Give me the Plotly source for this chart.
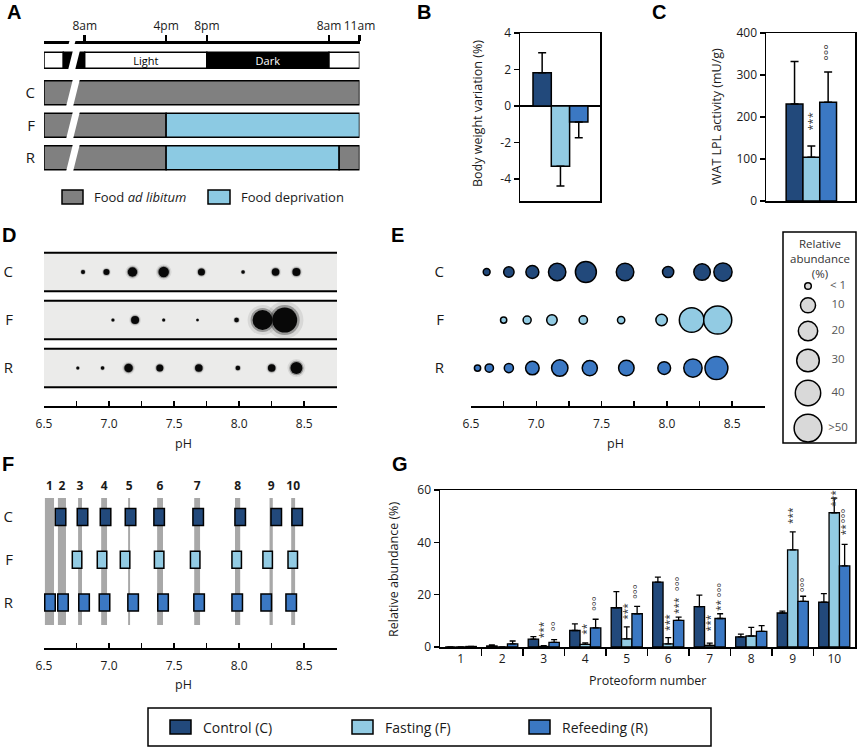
import math
import plotly.graph_objects as go

W, H = 858, 748

CTRL = "#22497b"
FAST = "#92cbe3"
REFD = "#3b78c3"
FED = "#808080"
DEPRIV = "#8ccae3"
BAND = "#a8a8a8"
GEL = "#ebebea"
FONT = "Open Sans"
BOLD = "Liberation Sans"
INK = "#1a1a1a"

# --- A: feeding protocol, in hours (8 = 8am of the last day)
time_ticks = [8, 16, 20, 32, 35]
time_labels = ["8am", "4pm", "8pm", "8am", "11am"]
ld_start = [4, 5.9, 8, 20, 32]
ld_end = [5.9, 8, 20, 32, 35]
ld_text = ["", "", "Light", "Dark", ""]
ld_dark = [False, True, False, True, False]
c_start, c_end, c_fed = [4], [35], [True]
f_start, f_end, f_fed = [4, 16], [16, 35], [True, False]
r_start, r_end, r_fed = [4, 16, 33], [16, 33, 35], [True, False, True]

# --- B: body weight variation (%)
bw_mean = [1.82, -3.30, -0.88]
bw_err = [1.10, 1.08, 0.85]

# --- C: WAT LPL activity (mU/g)
lpl_mean = [231, 104, 235]
lpl_err = [101, 27, 72]
lpl_sig = ["", "***", "°°°"]
lpl_sig_y = [0, 164, 328]

# --- G: relative abundance of each proteoform (%)
forms = list(range(1, 11))
ctrl_mean = [0, 0.4, 3.0, 6.3, 15.0, 24.8, 15.4, 3.9, 13.0, 17.1]
ctrl_err = [0, 0.4, 1.0, 2.5, 6.2, 1.9, 4.4, 1.0, 0.7, 3.3]
fast_mean = [0, 0, 0.2, 1.0, 3.1, 1.2, 0.6, 4.2, 37.1, 51.3]
fast_err = [0, 0, 0.3, 0.6, 4.6, 2.4, 0.9, 3.3, 6.9, 5.6]
refd_mean = [0.2, 1.2, 1.8, 7.3, 12.7, 10.2, 10.9, 6.0, 17.4, 31.0]
refd_err = [0, 1.1, 1.0, 3.3, 2.8, 1.2, 1.8, 2.2, 2.0, 8.2]

sig_form = [3, 3, 4, 4, 5, 5, 6, 6, 6, 7, 7, 7, 9, 9, 10, 10, 10]
sig_group = ["F", "R", "F", "R", "F", "R", "F", "R", "R", "F", "R", "R", "F", "R", "F", "R", "R"]
sig_text = ["***", "°°", "**", "°°°", "***", "°°°", "***", "***", "°°°",
            "***", "**", "°°°", "***", "°°°", "***", "**", "°°°"]
sig_y = [2.7, 5.3, 4.0, 13.0, 9.7, 17.4, 5.3, 11.9, 20.6, 5.3, 13.0, 18.0, 46.3, 20.0, 52.7, 41.8, 46.5]

# --- D: 2D gel spots (pH, spot diameter px)
gel_c_ph = [6.80, 6.98, 7.18, 7.42, 7.71, 8.03, 8.28, 8.44]
gel_c_size = [4, 6, 9.5, 10.5, 7, 3.5, 7.5, 8]
gel_f_ph = [7.03, 7.20, 7.42, 7.68, 7.98, 8.18, 8.35]
gel_f_size = [3, 8, 3, 2.5, 4.5, 20, 25]
gel_r_ph = [6.76, 6.95, 7.15, 7.39, 7.69, 7.99, 8.25, 8.44]
gel_r_size = [3, 3.5, 8.5, 7, 7.5, 4.5, 7.5, 12]

# --- E: spot pH and the proteoform each one is
dot_c_ph = [6.62, 6.79, 6.97, 7.16, 7.38, 7.68, 8.01, 8.27, 8.43]
dot_c_form = [2, 3, 4, 5, 6, 7, 8, 9, 10]
dot_f_ph = [6.75, 6.93, 7.12, 7.36, 7.65, 7.96, 8.19, 8.39]
dot_f_form = [3, 4, 5, 6, 7, 8, 9, 10]
dot_r_ph = [6.55, 6.64, 6.79, 6.97, 7.18, 7.41, 7.69, 7.98, 8.20, 8.38]
dot_r_form = [1, 2, 3, 4, 5, 6, 7, 8, 9, 10]
size_key_vals = [0.3, 10, 20, 30, 40, 50]
size_key_text = ["< 1", "10", "20", "30", "40", ">50"]

# --- F: proteoform map (band centre pH, band width pH, spot pH per group)
band_ph = [6.542, 6.638, 6.777, 6.962, 7.154, 7.392, 7.677, 7.988, 8.246, 8.415]
band_w = [0.07, 0.062, 0.03, 0.045, 0.015, 0.045, 0.045, 0.04, 0.025, 0.03]
map_c_ph = [6.627, 6.796, 6.973, 7.165, 7.385, 7.685, 8.008, 8.285, 8.446]
map_f_ph = [6.754, 6.946, 7.123, 7.385, 7.662, 7.981, 8.219, 8.412]
map_r_ph = [6.546, 6.646, 6.808, 6.965, 7.185, 7.415, 7.692, 7.985, 8.208, 8.400]

ph_ticks = [6.5, 7.0, 7.5, 8.0, 8.5]


def fx(px):
    return px / W


def fy(py):
    return 1 - py / H


def dom_x(a, b):
    return [a / W, b / W]


def dom_y(top, bot):
    return [1 - bot / H, 1 - top / H]


def bubble(v):
    return 4.8 + 3.25 * math.sqrt(v)


fig = go.Figure()
shapes = []
notes = []


def note(x, y, text, size=12, ref=("paper", "paper"), angle=0, xa="center", ya="middle", color=INK, family=FONT):
    notes.append(dict(x=x, y=y, xref=ref[0], yref=ref[1], text=text, showarrow=False,
                      textangle=angle, xanchor=xa, yanchor=ya,
                      font=dict(family=family, size=size, color=color)))


# ---------------- A ----------------
A_ROW_H = 32.5
A_TOP = 44


def a_row_px(r):
    return A_TOP + (r + 0.5) * A_ROW_H


def seg_bars(starts, ends, colors, row, width, texts=None, tcolors=None):
    fig.add_trace(go.Bar(
        orientation="h", y=[row] * len(starts), x=[e - s for s, e in zip(starts, ends)],
        base=starts, width=width, offset=-width / 2,
        marker=dict(color=colors, line=dict(color="black", width=1.5)),
        text=texts, textposition="inside" if texts else "none", insidetextanchor="middle",
        textangle=0, constraintext="none",
        insidetextfont=dict(color=tcolors, size=11, family=FONT),
        xaxis="x", yaxis="y", hoverinfo="skip", showlegend=False))


seg_bars(ld_start, ld_end, ["black" if d else "white" for d in ld_dark], 0, 0.49,
         ld_text, ["white" if d else "black" for d in ld_dark])
for row, (st, en, fed) in enumerate([(c_start, c_end, c_fed), (f_start, f_end, f_fed),
                                     (r_start, r_end, r_fed)], start=1):
    seg_bars(st, en, [FED if f else DEPRIV for f in fed], row, 0.74)


def slash(top, bot, xl=73.0, w=7.0, s=0.25):
    top -= 2
    bot += 2
    xb = xl - s * (bot - top)
    return dict(type="path", xref="paper", yref="paper", layer="above",
                path=f"M {fx(xl)},{fy(top)} L {fx(xl + w)},{fy(top)} "
                     f"L {fx(xb + w)},{fy(bot)} L {fx(xb)},{fy(bot)} Z",
                fillcolor="white", line=dict(width=0))


for row, wd in [(0, 0.49), (1, 0.74), (2, 0.74), (3, 0.74)]:
    c = a_row_px(row)
    half = wd * A_ROW_H / 2
    shapes.append(slash(c - half, c + half))
shapes.append(slash(38, 44, xl=71, w=6, s=0.3))

for x0, x1, col, label in [(62, 83, FED, "Food <i>ad libitum</i>"), (208, 230, DEPRIV, "Food deprivation")]:
    shapes.append(dict(type="rect", xref="paper", yref="paper", x0=fx(x0), x1=fx(x1),
                       y0=fy(204), y1=fy(190), fillcolor=col, line=dict(color="black", width=1.5)))
    note(fx(x1 + 9), fy(197), label, size=13, xa="left")

# ---------------- B ----------------
fig.add_trace(go.Bar(
    x=[0, 1, 2], y=bw_mean, width=1, offset=-0.5,
    marker=dict(color=[CTRL, FAST, REFD], line=dict(color="black", width=1.5)),
    error_y=dict(type="data", symmetric=False,
                 array=[e if m > 0 else 0 for m, e in zip(bw_mean, bw_err)],
                 arrayminus=[e if m < 0 else 0 for m, e in zip(bw_mean, bw_err)],
                 color="black", thickness=1.5, width=4),
    xaxis="x2", yaxis="y2", hoverinfo="skip", showlegend=False))
note(fx(478), fy(114), "Body weight variation (%)", size=12.5, angle=-90)

# ---------------- C ----------------
fig.add_trace(go.Bar(
    x=[0, 1, 2], y=lpl_mean, width=1, offset=-0.5,
    marker=dict(color=[CTRL, FAST, REFD], line=dict(color="black", width=1.5)),
    error_y=dict(type="data", symmetric=False, array=lpl_err, arrayminus=[0, 0, 0],
                 color="black", thickness=1.5, width=4),
    xaxis="x3", yaxis="y3", hoverinfo="skip", showlegend=False))
for i, (t, yv) in enumerate(zip(lpl_sig, lpl_sig_y)):
    if t:
        note(i, yv, t, size=11 if "*" in t else 13, ref=("x3", "y3"), angle=-90, ya="bottom", color="#333")
note(fx(717), fy(117), "WAT LPL activity (mU/g)", size=12.5, angle=-90)

# ---------------- D ----------------
for row, (ph, sz) in enumerate([(gel_c_ph, gel_c_size), (gel_f_ph, gel_f_size), (gel_r_ph, gel_r_size)]):
    shapes.append(dict(type="rect", xref="x4", yref="y4", x0=6.49, x1=8.775, y0=row - 0.4, y1=row + 0.4,
                       fillcolor=GEL, line=dict(color="black", width=2), layer="below"))
    for k, col in [(1.5, "rgba(0,0,0,0.08)"), (1.2, "rgba(0,0,0,0.3)"), (1.0, "#080808")]:
        fig.add_trace(go.Scatter(
            x=ph, y=[row] * len(ph), mode="markers",
            marker=dict(size=[s * k for s in sz], color=col, opacity=1, line=dict(width=0)),
            xaxis="x4", yaxis="y4", hoverinfo="skip", showlegend=False))
note(fx(183), fy(443), "pH", size=12.5)

# ---------------- E ----------------
for row, (ph, fm, col, mean) in enumerate([(dot_c_ph, dot_c_form, CTRL, ctrl_mean),
                                           (dot_f_ph, dot_f_form, FAST, fast_mean),
                                           (dot_r_ph, dot_r_form, REFD, refd_mean)]):
    fig.add_trace(go.Scatter(
        x=ph, y=[row] * len(ph), mode="markers", cliponaxis=False,
        marker=dict(size=[bubble(mean[f - 1]) for f in fm], color=col, opacity=1,
                    line=dict(color="black", width=1.5)),
        xaxis="x5", yaxis="y5", hoverinfo="skip", showlegend=False))
note(fx(615), fy(443), "pH", size=12.5)

# size key (drawn in a pixel-scaled axis)
key_d = [bubble(v) for v in size_key_vals]
key_y = [286]
for a, b in zip(key_d[:-1], key_d[1:]):
    key_y.append(key_y[-1] + (a + b) / 2 + 8.5)
fig.add_trace(go.Scatter(
    x=[808] * len(key_y), y=key_y, mode="markers", cliponaxis=False,
    marker=dict(size=key_d, color="#d9d9d9", opacity=1, line=dict(color="black", width=1.5)),
    xaxis="x8", yaxis="y8", hoverinfo="skip", showlegend=False))
fig.add_trace(go.Scatter(
    x=[838] * len(key_y), y=key_y, mode="text", text=size_key_text, cliponaxis=False,
    textfont=dict(family=FONT, size=11.5, color="#555"),
    xaxis="x8", yaxis="y8", hoverinfo="skip", showlegend=False))
shapes.append(dict(type="rect", xref="paper", yref="paper", x0=fx(783), x1=fx(856), y0=fy(443), y1=fy(232),
                   line=dict(color="black", width=1.5)))
note(fx(820), fy(234), "Relative<br>abundance<br>(%)", size=11.5, ya="top", color="#333")

# ---------------- F ----------------
fig.add_trace(go.Bar(
    x=band_ph, y=[2.97] * len(band_ph), base=-0.444, width=band_w, offset=[-w / 2 for w in band_w],
    marker=dict(color=BAND, line=dict(width=0)),
    xaxis="x6", yaxis="y6", hoverinfo="skip", showlegend=False))
for row, (ph, col, wd) in enumerate([(map_c_ph, CTRL, 0.081), (map_f_ph, FAST, 0.073), (map_r_ph, REFD, 0.081)]):
    fig.add_trace(go.Bar(
        x=ph, y=[0.4] * len(ph), base=row - 0.2, width=wd, offset=-wd / 2,
        marker=dict(color=col, line=dict(color="black", width=1.5)),
        xaxis="x6", yaxis="y6", hoverinfo="skip", showlegend=False))
fig.add_trace(go.Scatter(
    x=band_ph, y=[-0.70] * len(band_ph), mode="text", text=[f"<b>{f}</b>" for f in forms],
    textfont=dict(family=FONT, size=12, color=INK),
    xaxis="x6", yaxis="y6", hoverinfo="skip", showlegend=False))
note(fx(183), fy(684), "pH", size=12.5)

# ---------------- G ----------------
for mean, err, col in [(ctrl_mean, ctrl_err, CTRL), (fast_mean, fast_err, FAST), (refd_mean, refd_err, REFD)]:
    fig.add_trace(go.Bar(
        x=forms, y=mean,
        marker=dict(color=col, line=dict(color="black", width=1.3)),
        error_y=dict(type="data", symmetric=False, array=err, arrayminus=[0] * len(err),
                     color="black", thickness=1.3, width=3),
        xaxis="x7", yaxis="y7", hoverinfo="skip", showlegend=False))
# empty trace so the overlaid label axis of G gets drawn
fig.add_trace(go.Scatter(x=forms, y=[None] * len(forms), mode="markers", xaxis="x9", yaxis="y7",
                         hoverinfo="skip", showlegend=False))
offs = {"C": -0.25, "F": 0.0, "R": 0.25}
for f, g, t, yv in zip(sig_form, sig_group, sig_text, sig_y):
    note(f + offs[g], yv, t, size=10 if "*" in t else 11.5, ref=("x7", "y7"), angle=-90, ya="bottom", color="#333")
note(fx(393), fy(570), "Relative abundance (%)", size=12.5, angle=-90)
note(fx(647), fy(680), "Proteoform number", size=12.5)

# ---------------- bottom legend ----------------
shapes.append(dict(type="rect", xref="paper", yref="paper", x0=fx(148), x1=fx(711), y0=fy(746), y1=fy(708),
                   line=dict(color="black", width=1.5)))
for x0, col, label in [(170, CTRL, "Control (C)"), (352, FAST, "Fasting (F)"), (529, REFD, "Refeeding (R)")]:
    shapes.append(dict(type="rect", xref="paper", yref="paper", x0=fx(x0), x1=fx(x0 + 21),
                       y0=fy(734), y1=fy(720), fillcolor=col, line=dict(color="black", width=1.5)))
    note(fx(x0 + 31), fy(727), label, size=14, xa="left")

# panel letters
for letter, x, y in [("A", 14, 12), ("B", 424, 12), ("C", 659, 12), ("D", 9, 235),
                     ("E", 397, 235), ("F", 8, 464), ("G", 400, 464)]:
    note(fx(x), fy(y), f"<b>{letter}</b>", size=20, family=BOLD, color="black")


# ---------------- axes ----------------
def base_axis(domain, rng, **kw):
    d = dict(domain=domain, range=rng, showgrid=False, zeroline=False, fixedrange=True, automargin=False,
             tickfont=dict(family=FONT, size=12, color=INK), linecolor="black", tickcolor="black")
    d.update(kw)
    return d


def ph_axis(domain, anchor):
    return base_axis(domain, [6.5, 8.752], anchor=anchor, showline=True, linewidth=2,
                     ticks="inside", ticklen=5, tickwidth=1.5, tickvals=ph_ticks,
                     ticktext=[f"{v:.1f}" for v in ph_ticks], ticklabelstandoff=6,
                     minor=dict(dtick=0.25, tick0=6.5, ticks="inside", ticklen=5, tickwidth=1.5,
                                tickcolor="black"))


def row_axis(domain, rng, anchor, standoff, vals=(0, 1, 2)):
    return base_axis(domain, rng, anchor=anchor, tickvals=list(vals),
                     ticktext=["C", "F", "R"], ticks="", showline=False,
                     tickfont=dict(family=FONT, size=15, color=INK), ticklabelstandoff=standoff)


box = dict(showline=True, mirror=True, linewidth=1.5)
g_bounds = [f + 0.5 for f in forms[:-1]]

fig.update_layout(
    width=W, height=H, margin=dict(l=0, r=0, t=0, b=0, pad=0), autosize=False,
    paper_bgcolor="white", plot_bgcolor="rgba(0,0,0,0)",
    font=dict(family=FONT, color=INK), showlegend=False,
    barmode="group", bargap=0.25, bargroupgap=0,
    xaxis=base_axis(dom_x(44, 359.5), [4, 35], side="top", anchor="free", position=fy(41.5),
                    showline=True, linewidth=3, ticks="outside", ticklen=6, tickwidth=2.5,
                    tickvals=time_ticks, ticktext=time_labels),
    yaxis=row_axis(dom_y(A_TOP, A_TOP + 4 * A_ROW_H), [3.5, -0.5], "x", 8, vals=(1, 2, 3)),
    xaxis2=base_axis(dom_x(520, 600), [-1.21, 3.16], anchor="y2", showticklabels=False, ticks="", **box),
    yaxis2=base_axis(dom_y(33, 201), [-5.2, 4], anchor="x2", ticks="outside", ticklen=5, tickwidth=1.5,
                     tickvals=[-4, -2, 0, 2, 4], ticktext=["-4", "-2", "0", "2", "4"],
                     zeroline=True, zerolinecolor="black", zerolinewidth=1.5, **box),
    xaxis3=base_axis(dom_x(766, 855), [-1.7, 3.6], anchor="y3", showticklabels=False, ticks="", **box),
    yaxis3=base_axis(dom_y(33, 201), [0, 400], anchor="x3", ticks="outside", ticklen=5, tickwidth=1.5,
                     tickvals=[0, 100, 200, 300, 400], **box),
    xaxis4=ph_axis(dom_x(44, 337), "y4"),
    yaxis4=row_axis(dom_y(245, 406), [2.79, -0.5625], "x4", 30),
    xaxis5=ph_axis(dom_x(471, 765), "y5"),
    yaxis5=row_axis(dom_y(245, 406), [2.79, -0.5625], "x5", 26),
    xaxis6=ph_axis(dom_x(44, 337), "y6"),
    yaxis6=row_axis(dom_y(478, 648), [3.064, -0.912], "x6", 30),
    # G: ticks sit on the category boundaries, labels come from an overlaid axis
    xaxis7=base_axis(dom_x(440, 855), [0.5, 10.5], anchor="y7", tickvals=g_bounds,
                     ticktext=[""] * len(g_bounds), ticks="outside", ticklen=7, tickwidth=1.5, **box),
    xaxis9=base_axis(dom_x(440, 855), [0.5, 10.5], anchor="y7", overlaying="x7", tickvals=forms,
                     ticks="", showline=False, ticklabelstandoff=3),
    yaxis7=base_axis(dom_y(490, 647), [0, 60], anchor="x7", ticks="outside", ticklen=5, tickwidth=1.5,
                     tickvals=[0, 20, 40, 60], **box),
    xaxis8=base_axis(dom_x(783, 856), [783, 856], anchor="y8", visible=False),
    yaxis8=base_axis(dom_y(232, 443), [443, 232], anchor="x8", visible=False),
    shapes=shapes, annotations=notes,
)

fig.write_html("out.html", config={"displayModeBar": False, "staticPlot": True},
               post_script="document.body.style.margin='0';")
